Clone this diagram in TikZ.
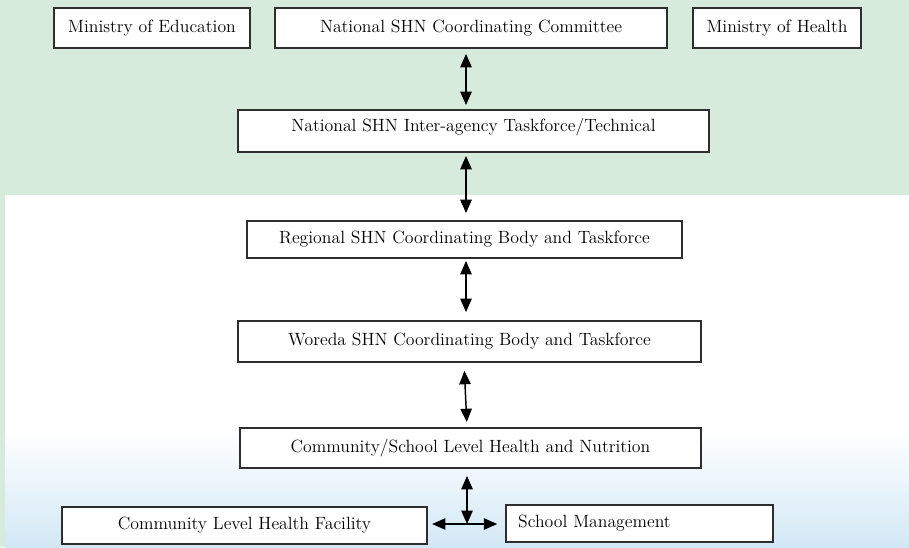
\documentclass[tikz,border=0pt]{standalone}
\usetikzlibrary{arrows.meta}

\definecolor{mintbg}{HTML}{D6EBDC}
\definecolor{skybg}{HTML}{D2E8F5}
\definecolor{edgegray}{HTML}{2E2E2E}

\tikzset{
	orgbox/.style={draw=edgegray, line width=1.4pt, fill=white, minimum height=30pt, inner sep=0pt, font=\fontsize{13.3}{15}\selectfont},
	link/.style={line width=1.1pt, {Triangle[length=10pt,width=8.5pt]}-{Triangle[length=10pt,width=8.5pt]}}
}

\begin{document}
\begin{tikzpicture}[x=0.75pt,y=-0.75pt]
	\useasboundingbox (0,0) rectangle (909,547);
	% background
	\fill[mintbg] (0,0) rectangle (909,547);
	\fill[white] (5,195) rectangle (909,547);
	\shade[top color=white, bottom color=skybg] (5,430) rectangle (909,547);
	
	\node[orgbox, minimum width=147pt] (moe) at (152,28) {Ministry of Education};
	\node[orgbox, minimum width=294pt] (natcom) at (471,28) {National SHN Coordinating Committee};
	\node[orgbox, minimum width=126pt] (moh) at (777,28) {Ministry of Health};
	\node[orgbox, minimum width=353pt, minimum height=31.5pt, text depth=9.5pt] (taskforce) at (473.5,131) {National SHN Inter-agency Taskforce/Technical};
	\node[orgbox, minimum width=326pt, minimum height=27.75pt] (region) at (464.5,239.5) {Regional SHN Coordinating Body and Taskforce};
	\node[orgbox, minimum width=347pt, minimum height=30.75pt] (woreda) at (469.5,341.5) {Woreda SHN Coordinating Body and Taskforce};
	\node[orgbox, minimum width=346pt] (community) at (470.5,448) {Community/School Level Health and Nutrition};
	\node[orgbox, minimum width=274pt, minimum height=27.75pt] (facility) at (244.5,525.5) {Community Level Health Facility};
	\node[orgbox, minimum height=27.75pt, inner xsep=9pt, text width=182pt, align=left] (school) at (639.5,523.5) {School Management};
	
	\coordinate (spine) at (466,0);
	\coordinate (hub) at (467,524);
	
	\draw[link, shorten <=3.75pt, shorten >=3pt] (natcom.south -| spine) -- (taskforce.north -| spine);
	\draw[link, shorten <=2.25pt, shorten >=5.25pt] (taskforce.south -| spine) -- (region.north -| spine);
	\draw[link, shorten <=1.5pt, shorten >=6pt] (region.south -| spine) -- (woreda.north -| spine);
	\draw[link, shorten <=6pt, shorten >=3.75pt] ([xshift=-1.5pt]woreda.south -| spine) -- ([xshift=0.75pt]community.north -| spine);
	\draw[link, shorten <=5.25pt] (community.south -| hub) -- (hub);
	\draw[link, shorten <=3pt, shorten >=6pt] (facility.east |- hub) -- (school.west |- hub);
	
\end{tikzpicture}
\end{document}
